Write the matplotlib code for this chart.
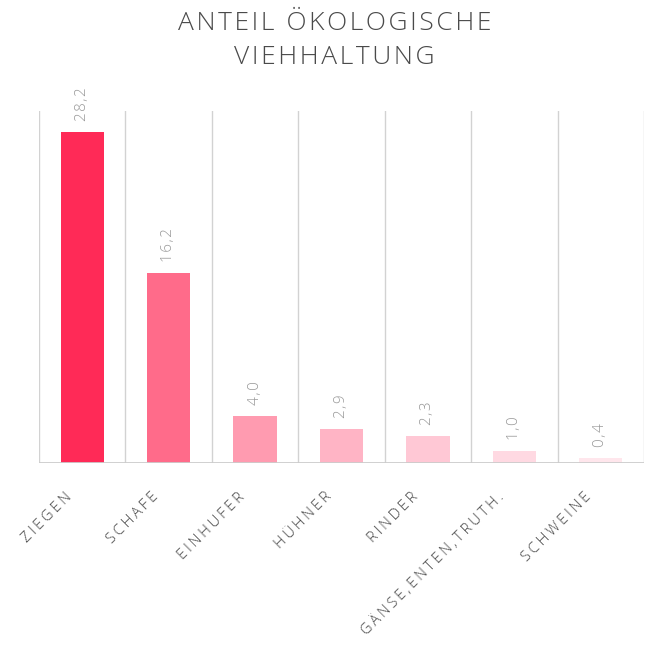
import numpy as np
import matplotlib.pyplot as plt
from matplotlib.transforms import ScaledTranslation

categories = ["ZIEGEN", "SCHAFE", "EINHUFER", "HÜHNER", "RINDER", "GÄNSE,ENTEN,TRUTH.", "SCHWEINE"]
values = [28.2, 16.2, 4.0, 2.9, 2.3, 1.0, 0.4]
colors = ["#ff2a57", "#ff6b8a", "#ff9bb0", "#ffb4c5", "#ffc8d5", "#ffd9e2", "#ffe6ec"]

plt.rcParams['font.family'] = ['Open Sans', 'DejaVu Sans']


def spaced(s, gap="\u2009"):
    # wide letter spacing like the original
    return gap.join(s)


fig = plt.figure(figsize=(6.69, 6.45), dpi=100)
ax = fig.add_axes([39 / 669, 1 - 463 / 645, (644 - 39) / 669, (463 - 111) / 645])

x = np.arange(len(categories))
ax.bar(x, values, width=0.5, color=colors, zorder=2)

ax.set_xlim(-0.5, len(categories) - 0.5)
ax.set_ylim(0, 30)

# category separators
for b in np.arange(-0.5, len(categories), 1.0):
    ax.axvline(b, color="#d2d2d2", lw=1.0, zorder=1)

for s in ax.spines.values():
    s.set_visible(False)
ax.axhline(0, color="#cccccc", lw=2, zorder=3)

ax.set_yticks([])
ax.set_xticks(x)
ax.set_xticklabels([spaced(c) for c in categories], rotation=45, ha="right", va="center",
                   rotation_mode="anchor", fontsize=10.5, color="#444444",
                   fontweight="light")
ax.tick_params(axis="x", length=0, pad=23)
shift = ScaledTranslation(-12 / 100, 0, fig.dpi_scale_trans)
for lab in ax.get_xticklabels():
    lab.set_transform(lab.get_transform() + shift)

for xi, v in zip(x, values):
    ax.annotate(spaced(f"{v:.1f}".replace(".", ","), "\u200a"), (xi, v), xytext=(0, 8),
                textcoords="offset points", rotation=90, ha="center", va="bottom",
                fontsize=11, color="#999999", fontweight="light")

fig.text(0.5, 1 - 24 / 645, spaced("ANTEIL ÖKOLOGISCHE", "\u200a"), ha="center", va="center",
         fontsize=19, color="#4a4a4a", fontweight="light")
fig.text(0.5, 1 - 57 / 645, spaced("VIEHHALTUNG", "\u200a"), ha="center", va="center",
         fontsize=19, color="#4a4a4a", fontweight="light")

fig.savefig("out.png", dpi=100)
